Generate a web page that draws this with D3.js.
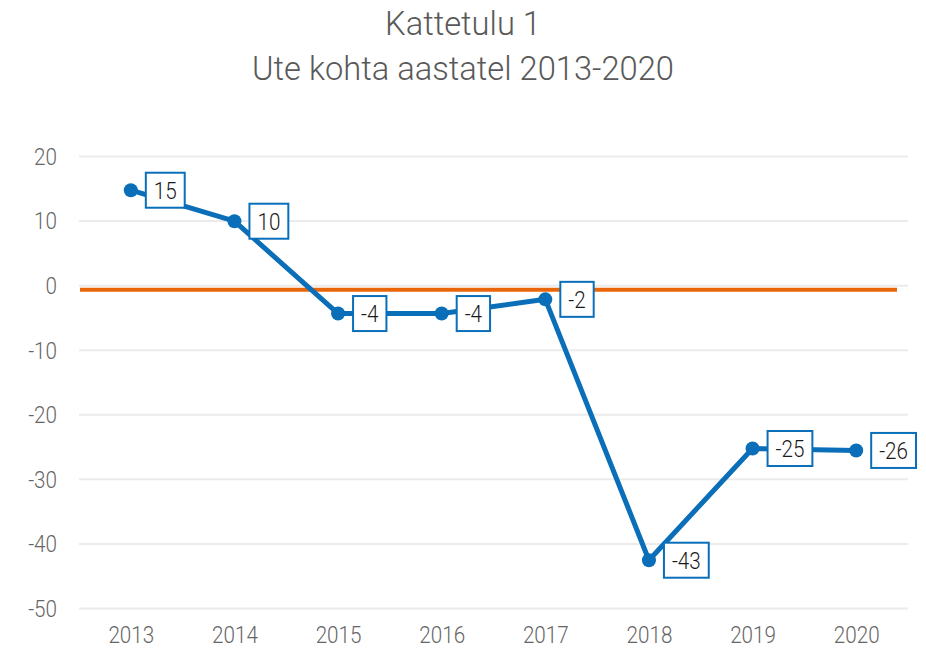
<!DOCTYPE html>
<html>
<head>
<meta charset="utf-8">
<script src="https://cdn.jsdelivr.net/npm/d3@7"></script>
<style>
  html, body { margin: 0; padding: 0; background: #fff; }
  svg { display: block; }
  text { font-family: Roboto, "Open Sans", sans-serif; font-weight: 300; }
</style>
</head>
<body>
<svg id="chart" width="926" height="648"></svg>
<script>
// Chart data
const titleLines = ["Kattetulu 1", "Ute kohta aastatel 2013-2020"];
const years = ["2013", "2014", "2015", "2016", "2017", "2018", "2019", "2020"];
const values = [14.7, 9.9, -4.4, -4.4, -2.2, -42.6, -25.3, -25.6];
const yTicks = [20, 10, 0, -10, -20, -30, -40, -50];
const referenceValue = -0.7;

const blue = "#0a6fb8";
const orange = "#e8650a";
const condense = 0.86;   // narrows Roboto toward a condensed look

const svg = d3.select("#chart");
const plot = { left: 79, right: 908, top: 156, bottom: 608 };

const x = d3.scalePoint().domain(years).range([plot.left, plot.right]).padding(0.5);
const y = d3.scaleLinear().domain([-50, 20]).range([plot.bottom, plot.top]);

// plain hyphen for negative numbers
const locale = d3.formatLocale({ decimal: ".", thousands: "", grouping: [3], currency: ["", ""], minus: "-" });
const fmt = locale.format(".0f");

function squeeze(sel, k = condense) {
  sel.each(function () {
    const w = this.getComputedTextLength();
    d3.select(this).attr("textLength", w * k).attr("lengthAdjust", "spacingAndGlyphs");
  });
  return sel;
}

// Title
svg.append("g").selectAll("text").data(titleLines).join("text")
  .attr("x", 463).attr("y", (d, i) => 35 + i * 45)
  .attr("text-anchor", "middle")
  .attr("font-size", 33).attr("fill", "#595959")
  .text(d => d)
  .call(squeeze, 0.99);

// Horizontal gridlines and y labels
const yAxis = svg.append("g").attr("transform", `translate(${plot.left},0)`)
  .call(d3.axisLeft(y).tickValues(yTicks).tickFormat(fmt)
    .tickSize(-(plot.right - plot.left)).tickPadding(22));
yAxis.select(".domain").remove();
yAxis.selectAll(".tick line").attr("stroke", "#ebebeb").attr("stroke-width", 2);
yAxis.selectAll(".tick text")
  .attr("font-size", 24).attr("fill", "#666").attr("font-family", "Roboto").attr("font-weight", 300)
  .attr("dy", "0.35em")
  .call(squeeze);

// x labels
const xAxis = svg.append("g").attr("transform", `translate(0,${plot.bottom})`)
  .call(d3.axisBottom(x).tickSize(0).tickPadding(18));
xAxis.select(".domain").remove();
xAxis.selectAll(".tick text")
  .attr("font-size", 24).attr("fill", "#666").attr("font-family", "Roboto").attr("font-weight", 300)
  .attr("dy", "0.71em")
  .call(squeeze);

// Reference line
svg.append("line")
  .attr("x1", plot.left + 1).attr("x2", plot.right - 11)
  .attr("y1", y(referenceValue)).attr("y2", y(referenceValue))
  .attr("stroke", orange).attr("stroke-width", 4);

// Series line
const pts = years.map((yr, i) => ({ yr, v: values[i] }));
svg.append("path").datum(pts)
  .attr("fill", "none").attr("stroke", blue).attr("stroke-width", 5)
  .attr("stroke-linejoin", "round")
  .attr("d", d3.line().x(d => x(d.yr)).y(d => y(d.v)));

svg.append("g").selectAll("circle").data(pts).join("circle")
  .attr("cx", d => x(d.yr)).attr("cy", d => y(d.v)).attr("r", 7)
  .attr("fill", blue);

// Value labels in boxes
const labels = svg.append("g").selectAll("g").data(pts).join("g")
  .attr("transform", d => `translate(${x(d.yr) + 15},${y(d.v)})`);
labels.append("rect");
labels.append("text")
  .attr("font-size", 24).attr("fill", "#1a1a1a")
  .attr("text-anchor", "middle").attr("dy", "0.36em")
  .text(d => fmt(d.v))
  .call(squeeze);
labels.each(function () {
  const g = d3.select(this);
  const t = g.select("text");
  const w = +t.attr("textLength") + 16;
  t.attr("x", w / 2);
  g.select("rect")
    .attr("x", 0).attr("y", -17.5).attr("width", w).attr("height", 35)
    .attr("fill", "#fff").attr("stroke", blue).attr("stroke-width", 2);
});
</script>
</body>
</html>
